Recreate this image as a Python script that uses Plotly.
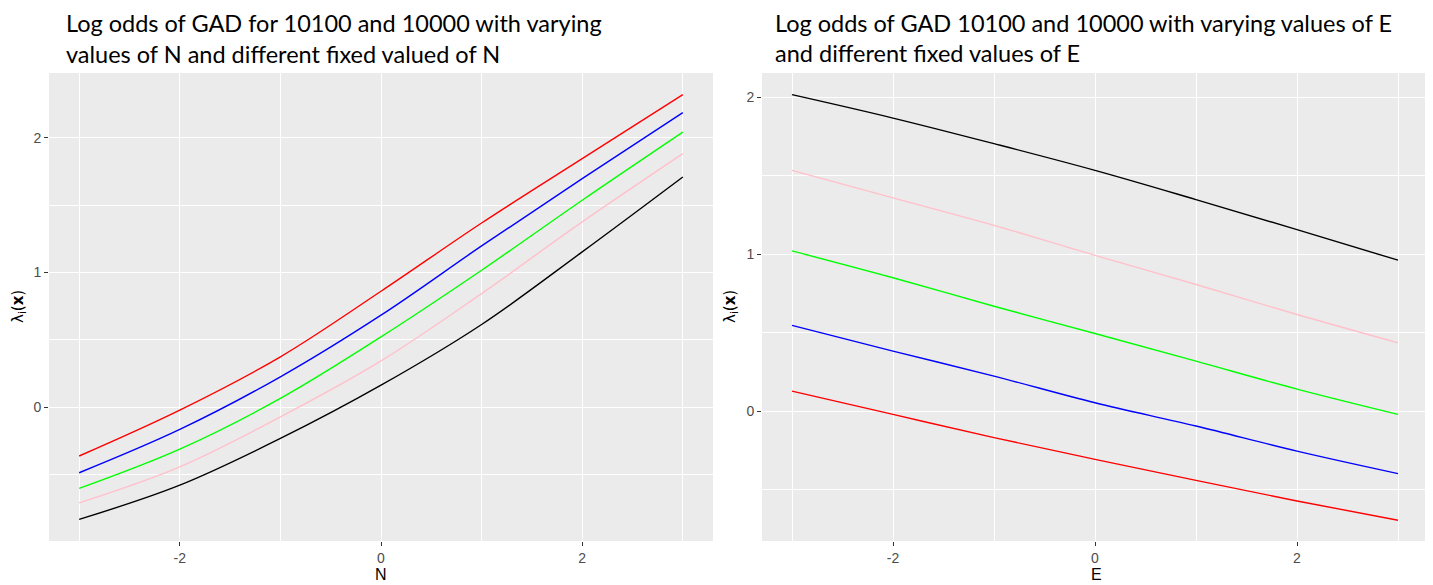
import plotly.graph_objects as go

# Page body has an 8px margin, so the figure is drawn at (8, 8) in the window.
OFF = 8
W, H = 1433 - OFF, 585 - OFF

x_vals = [-3, -2, -1, 0, 1, 2, 3]

# Left panel (varying N)
left_red = [-0.36, -0.02, 0.375, 0.861, 1.367, 1.844, 2.319]
left_blue = [-0.484, -0.163, 0.227, 0.684, 1.197, 1.696, 2.185]
left_green = [-0.60, -0.309, 0.067, 0.523, 1.017, 1.536, 2.041]
left_pink = [-0.707, -0.44, -0.07, 0.345, 0.844, 1.375, 1.881]
left_black = [-0.83, -0.576, -0.23, 0.165, 0.615, 1.153, 1.708]

# Right panel (varying E)
right_black = [2.015, 1.866, 1.703, 1.533, 1.347, 1.156, 0.961]
right_pink = [1.533, 1.358, 1.183, 0.992, 0.806, 0.615, 0.435]
right_green = [1.02, 0.849, 0.668, 0.494, 0.318, 0.14, -0.021]
right_blue = [0.546, 0.382, 0.223, 0.053, -0.095, -0.255, -0.398]
right_red = [0.127, -0.021, -0.169, -0.307, -0.441, -0.572, -0.695]

x_tickvals = [-2, 0, 2]
x_ticktext = ["-2", "0", "2"]
y_tickvals = [0, 1, 2]
y_ticktext = ["0", "1", "2"]

left_title = ["Log odds of GAD for 10100 and 10000 with varying",
              "values of N and different fixed valued of N"]
right_title = ["Log odds of GAD 10100 and 10000 with varying values of E",
               "and different fixed values of E"]

colors = {"red": "#FF0000", "blue": "#0000FF", "green": "#00FF00",
          "pink": "#FFC0CB", "black": "#000000"}

fig = go.Figure()

left_series = [("black", left_black), ("pink", left_pink), ("green", left_green),
               ("blue", left_blue), ("red", left_red)]
right_series = [("black", right_black), ("pink", right_pink), ("green", right_green),
                ("blue", right_blue), ("red", right_red)]

for name, ys in left_series:
    fig.add_trace(go.Scatter(x=x_vals, y=ys, mode="lines", xaxis="x", yaxis="y",
                             line=dict(color=colors[name], width=1.4, shape="spline", smoothing=1.0),
                             showlegend=False, hoverinfo="skip"))
for name, ys in right_series:
    fig.add_trace(go.Scatter(x=x_vals, y=ys, mode="lines", xaxis="x2", yaxis="y2",
                             line=dict(color=colors[name], width=1.4, shape="spline", smoothing=1.0),
                             showlegend=False, hoverinfo="skip"))


def px(v):
    return (v - OFF) / W


def py(v):
    return 1 - (v - OFF) / H


tick_font = dict(family="Liberation Sans, Arial, sans-serif", size=14, color="#4D4D4D")
axis_common = dict(showgrid=True, gridcolor="white", gridwidth=1.1, zeroline=False,
                   ticks="outside", ticklen=4, tickcolor="#333333", tickwidth=1,
                   showline=False, tickfont=tick_font, tickmode="array")
minor_x = dict(tickmode="array", tickvals=[-3, -1, 1, 3], showgrid=True,
               gridcolor="white", gridwidth=0.6, ticks="")
minor_y = dict(tickmode="array", tickvals=[-0.5, 0.5, 1.5], showgrid=True,
               gridcolor="white", gridwidth=0.6, ticks="")

ydom = [py(541), py(73)]

fig.update_layout(
    width=W, height=H, margin=dict(l=0, r=0, t=0, b=0),
    paper_bgcolor="white", plot_bgcolor="#EBEBEB",
    xaxis=dict(domain=[px(49), px(713)], range=[-3.3, 3.3],
               tickvals=x_tickvals, ticktext=x_ticktext, minor=minor_x,
               anchor="y", **axis_common),
    yaxis=dict(domain=ydom, range=[-0.99, 2.479],
               tickvals=y_tickvals, ticktext=y_ticktext, minor=minor_y,
               anchor="x", **axis_common),
    xaxis2=dict(domain=[px(762), px(1428)], range=[-3.297, 3.297],
                tickvals=x_tickvals, ticktext=x_ticktext, minor=minor_x,
                anchor="y2", **axis_common),
    yaxis2=dict(domain=ydom, range=[-0.827, 2.153],
                tickvals=y_tickvals, ticktext=y_ticktext, minor=minor_y,
                anchor="x2", **axis_common),
)

title_font = dict(family="Lato, Carlito, Calibri, sans-serif", size=23.5, color="#000000")
ann = []
for txt, xx, yy in [(left_title[0], 64, 23), (left_title[1], 64, 54),
                    (right_title[0], 773, 23), (right_title[1], 773, 53)]:
    ann.append(dict(text=txt, x=px(xx), y=py(yy), xref="paper", yref="paper",
                    xanchor="left", yanchor="middle", showarrow=False, font=title_font))

lab_font = dict(family="Liberation Sans, Arial, sans-serif", size=16, color="#000000")
ann.append(dict(text="N", x=px(381), y=py(574), xref="paper", yref="paper",
                xanchor="center", yanchor="middle", showarrow=False, font=lab_font))
ann.append(dict(text="E", x=px(1096), y=py(574), xref="paper", yref="paper",
                xanchor="center", yanchor="middle", showarrow=False, font=lab_font))
ylab = "λ<sub>i</sub>(<b>x</b>)"
ylab_font = dict(family="DejaVu Sans, sans-serif", size=15, color="#000000")
ann.append(dict(text=ylab, x=px(18), y=py(307), xref="paper", yref="paper",
                xanchor="center", yanchor="middle", showarrow=False, textangle=-90,
                font=ylab_font))
ann.append(dict(text=ylab, x=px(730), y=py(307), xref="paper", yref="paper",
                xanchor="center", yanchor="middle", showarrow=False, textangle=-90,
                font=ylab_font))
fig.update_layout(annotations=ann)

fig.write_html("out.html")
